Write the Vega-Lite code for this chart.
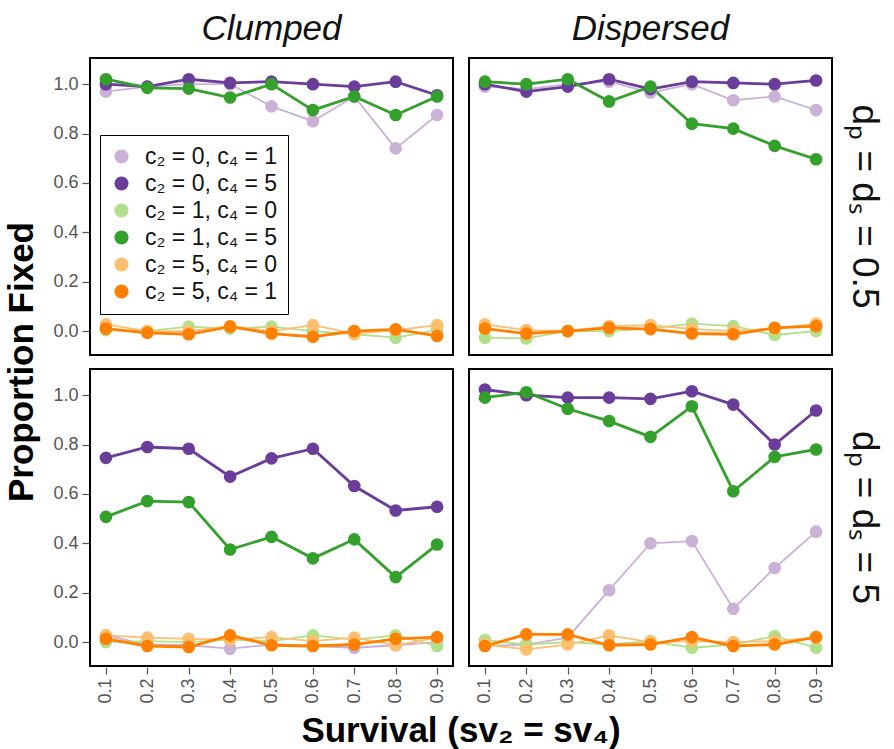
{
  "$schema": "https://vega.github.io/schema/vega-lite/v6.json",
  "background": "white",
  "padding": {"left": 4, "top": 12, "right": 4, "bottom": 0},
  "datasets": {
    "pts": [
      {"f":"Clumped","d":"0.5","s":"c₂ = 0, c₄ = 1","x":0.1,"y":0.97},
      {"f":"Clumped","d":"0.5","s":"c₂ = 0, c₄ = 1","x":0.2,"y":0.99},
      {"f":"Clumped","d":"0.5","s":"c₂ = 0, c₄ = 1","x":0.3,"y":1.0},
      {"f":"Clumped","d":"0.5","s":"c₂ = 0, c₄ = 1","x":0.4,"y":1.0},
      {"f":"Clumped","d":"0.5","s":"c₂ = 0, c₄ = 1","x":0.5,"y":0.91},
      {"f":"Clumped","d":"0.5","s":"c₂ = 0, c₄ = 1","x":0.6,"y":0.85},
      {"f":"Clumped","d":"0.5","s":"c₂ = 0, c₄ = 1","x":0.7,"y":0.95},
      {"f":"Clumped","d":"0.5","s":"c₂ = 0, c₄ = 1","x":0.8,"y":0.74},
      {"f":"Clumped","d":"0.5","s":"c₂ = 0, c₄ = 1","x":0.9,"y":0.875},
      {"f":"Clumped","d":"0.5","s":"c₂ = 0, c₄ = 5","x":0.1,"y":1.0},
      {"f":"Clumped","d":"0.5","s":"c₂ = 0, c₄ = 5","x":0.2,"y":0.99},
      {"f":"Clumped","d":"0.5","s":"c₂ = 0, c₄ = 5","x":0.3,"y":1.02},
      {"f":"Clumped","d":"0.5","s":"c₂ = 0, c₄ = 5","x":0.4,"y":1.005},
      {"f":"Clumped","d":"0.5","s":"c₂ = 0, c₄ = 5","x":0.5,"y":1.01},
      {"f":"Clumped","d":"0.5","s":"c₂ = 0, c₄ = 5","x":0.6,"y":1.0},
      {"f":"Clumped","d":"0.5","s":"c₂ = 0, c₄ = 5","x":0.7,"y":0.99},
      {"f":"Clumped","d":"0.5","s":"c₂ = 0, c₄ = 5","x":0.8,"y":1.01},
      {"f":"Clumped","d":"0.5","s":"c₂ = 0, c₄ = 5","x":0.9,"y":0.955},
      {"f":"Clumped","d":"0.5","s":"c₂ = 1, c₄ = 0","x":0.1,"y":0.004},
      {"f":"Clumped","d":"0.5","s":"c₂ = 1, c₄ = 0","x":0.2,"y":0.0},
      {"f":"Clumped","d":"0.5","s":"c₂ = 1, c₄ = 0","x":0.3,"y":0.018},
      {"f":"Clumped","d":"0.5","s":"c₂ = 1, c₄ = 0","x":0.4,"y":0.01},
      {"f":"Clumped","d":"0.5","s":"c₂ = 1, c₄ = 0","x":0.5,"y":0.018},
      {"f":"Clumped","d":"0.5","s":"c₂ = 1, c₄ = 0","x":0.6,"y":0.0},
      {"f":"Clumped","d":"0.5","s":"c₂ = 1, c₄ = 0","x":0.7,"y":-0.013},
      {"f":"Clumped","d":"0.5","s":"c₂ = 1, c₄ = 0","x":0.8,"y":-0.027},
      {"f":"Clumped","d":"0.5","s":"c₂ = 1, c₄ = 0","x":0.9,"y":0.004},
      {"f":"Clumped","d":"0.5","s":"c₂ = 1, c₄ = 5","x":0.1,"y":1.02},
      {"f":"Clumped","d":"0.5","s":"c₂ = 1, c₄ = 5","x":0.2,"y":0.985},
      {"f":"Clumped","d":"0.5","s":"c₂ = 1, c₄ = 5","x":0.3,"y":0.982},
      {"f":"Clumped","d":"0.5","s":"c₂ = 1, c₄ = 5","x":0.4,"y":0.946},
      {"f":"Clumped","d":"0.5","s":"c₂ = 1, c₄ = 5","x":0.5,"y":1.0},
      {"f":"Clumped","d":"0.5","s":"c₂ = 1, c₄ = 5","x":0.6,"y":0.895},
      {"f":"Clumped","d":"0.5","s":"c₂ = 1, c₄ = 5","x":0.7,"y":0.95},
      {"f":"Clumped","d":"0.5","s":"c₂ = 1, c₄ = 5","x":0.8,"y":0.875},
      {"f":"Clumped","d":"0.5","s":"c₂ = 1, c₄ = 5","x":0.9,"y":0.95},
      {"f":"Clumped","d":"0.5","s":"c₂ = 5, c₄ = 0","x":0.1,"y":0.027},
      {"f":"Clumped","d":"0.5","s":"c₂ = 5, c₄ = 0","x":0.2,"y":0.0},
      {"f":"Clumped","d":"0.5","s":"c₂ = 5, c₄ = 0","x":0.3,"y":0.0},
      {"f":"Clumped","d":"0.5","s":"c₂ = 5, c₄ = 0","x":0.4,"y":0.02},
      {"f":"Clumped","d":"0.5","s":"c₂ = 5, c₄ = 0","x":0.5,"y":0.0},
      {"f":"Clumped","d":"0.5","s":"c₂ = 5, c₄ = 0","x":0.6,"y":0.024},
      {"f":"Clumped","d":"0.5","s":"c₂ = 5, c₄ = 0","x":0.7,"y":-0.01},
      {"f":"Clumped","d":"0.5","s":"c₂ = 5, c₄ = 0","x":0.8,"y":0.004},
      {"f":"Clumped","d":"0.5","s":"c₂ = 5, c₄ = 0","x":0.9,"y":0.024},
      {"f":"Clumped","d":"0.5","s":"c₂ = 5, c₄ = 1","x":0.1,"y":0.01},
      {"f":"Clumped","d":"0.5","s":"c₂ = 5, c₄ = 1","x":0.2,"y":-0.007},
      {"f":"Clumped","d":"0.5","s":"c₂ = 5, c₄ = 1","x":0.3,"y":-0.013},
      {"f":"Clumped","d":"0.5","s":"c₂ = 5, c₄ = 1","x":0.4,"y":0.018},
      {"f":"Clumped","d":"0.5","s":"c₂ = 5, c₄ = 1","x":0.5,"y":-0.01},
      {"f":"Clumped","d":"0.5","s":"c₂ = 5, c₄ = 1","x":0.6,"y":-0.023},
      {"f":"Clumped","d":"0.5","s":"c₂ = 5, c₄ = 1","x":0.7,"y":0.0},
      {"f":"Clumped","d":"0.5","s":"c₂ = 5, c₄ = 1","x":0.8,"y":0.007},
      {"f":"Clumped","d":"0.5","s":"c₂ = 5, c₄ = 1","x":0.9,"y":-0.02},

      {"f":"Dispersed","d":"0.5","s":"c₂ = 0, c₄ = 1","x":0.1,"y":0.99},
      {"f":"Dispersed","d":"0.5","s":"c₂ = 0, c₄ = 1","x":0.2,"y":0.98},
      {"f":"Dispersed","d":"0.5","s":"c₂ = 0, c₄ = 1","x":0.3,"y":1.0},
      {"f":"Dispersed","d":"0.5","s":"c₂ = 0, c₄ = 1","x":0.4,"y":1.01},
      {"f":"Dispersed","d":"0.5","s":"c₂ = 0, c₄ = 1","x":0.5,"y":0.966},
      {"f":"Dispersed","d":"0.5","s":"c₂ = 0, c₄ = 1","x":0.6,"y":1.0},
      {"f":"Dispersed","d":"0.5","s":"c₂ = 0, c₄ = 1","x":0.7,"y":0.935},
      {"f":"Dispersed","d":"0.5","s":"c₂ = 0, c₄ = 1","x":0.8,"y":0.95},
      {"f":"Dispersed","d":"0.5","s":"c₂ = 0, c₄ = 1","x":0.9,"y":0.895},
      {"f":"Dispersed","d":"0.5","s":"c₂ = 0, c₄ = 5","x":0.1,"y":1.0},
      {"f":"Dispersed","d":"0.5","s":"c₂ = 0, c₄ = 5","x":0.2,"y":0.97},
      {"f":"Dispersed","d":"0.5","s":"c₂ = 0, c₄ = 5","x":0.3,"y":0.99},
      {"f":"Dispersed","d":"0.5","s":"c₂ = 0, c₄ = 5","x":0.4,"y":1.02},
      {"f":"Dispersed","d":"0.5","s":"c₂ = 0, c₄ = 5","x":0.5,"y":0.98},
      {"f":"Dispersed","d":"0.5","s":"c₂ = 0, c₄ = 5","x":0.6,"y":1.01},
      {"f":"Dispersed","d":"0.5","s":"c₂ = 0, c₄ = 5","x":0.7,"y":1.005},
      {"f":"Dispersed","d":"0.5","s":"c₂ = 0, c₄ = 5","x":0.8,"y":1.0},
      {"f":"Dispersed","d":"0.5","s":"c₂ = 0, c₄ = 5","x":0.9,"y":1.015},
      {"f":"Dispersed","d":"0.5","s":"c₂ = 1, c₄ = 0","x":0.1,"y":-0.027},
      {"f":"Dispersed","d":"0.5","s":"c₂ = 1, c₄ = 0","x":0.2,"y":-0.03},
      {"f":"Dispersed","d":"0.5","s":"c₂ = 1, c₄ = 0","x":0.3,"y":0.0},
      {"f":"Dispersed","d":"0.5","s":"c₂ = 1, c₄ = 0","x":0.4,"y":0.0},
      {"f":"Dispersed","d":"0.5","s":"c₂ = 1, c₄ = 0","x":0.5,"y":0.01},
      {"f":"Dispersed","d":"0.5","s":"c₂ = 1, c₄ = 0","x":0.6,"y":0.03},
      {"f":"Dispersed","d":"0.5","s":"c₂ = 1, c₄ = 0","x":0.7,"y":0.02},
      {"f":"Dispersed","d":"0.5","s":"c₂ = 1, c₄ = 0","x":0.8,"y":-0.016},
      {"f":"Dispersed","d":"0.5","s":"c₂ = 1, c₄ = 0","x":0.9,"y":0.0},
      {"f":"Dispersed","d":"0.5","s":"c₂ = 1, c₄ = 5","x":0.1,"y":1.01},
      {"f":"Dispersed","d":"0.5","s":"c₂ = 1, c₄ = 5","x":0.2,"y":1.0},
      {"f":"Dispersed","d":"0.5","s":"c₂ = 1, c₄ = 5","x":0.3,"y":1.02},
      {"f":"Dispersed","d":"0.5","s":"c₂ = 1, c₄ = 5","x":0.4,"y":0.93},
      {"f":"Dispersed","d":"0.5","s":"c₂ = 1, c₄ = 5","x":0.5,"y":0.99},
      {"f":"Dispersed","d":"0.5","s":"c₂ = 1, c₄ = 5","x":0.6,"y":0.84},
      {"f":"Dispersed","d":"0.5","s":"c₂ = 1, c₄ = 5","x":0.7,"y":0.82},
      {"f":"Dispersed","d":"0.5","s":"c₂ = 1, c₄ = 5","x":0.8,"y":0.75},
      {"f":"Dispersed","d":"0.5","s":"c₂ = 1, c₄ = 5","x":0.9,"y":0.696},
      {"f":"Dispersed","d":"0.5","s":"c₂ = 5, c₄ = 0","x":0.1,"y":0.027},
      {"f":"Dispersed","d":"0.5","s":"c₂ = 5, c₄ = 0","x":0.2,"y":0.004},
      {"f":"Dispersed","d":"0.5","s":"c₂ = 5, c₄ = 0","x":0.3,"y":0.0},
      {"f":"Dispersed","d":"0.5","s":"c₂ = 5, c₄ = 0","x":0.4,"y":0.02},
      {"f":"Dispersed","d":"0.5","s":"c₂ = 5, c₄ = 0","x":0.5,"y":0.024},
      {"f":"Dispersed","d":"0.5","s":"c₂ = 5, c₄ = 0","x":0.6,"y":0.008},
      {"f":"Dispersed","d":"0.5","s":"c₂ = 5, c₄ = 0","x":0.7,"y":0.0},
      {"f":"Dispersed","d":"0.5","s":"c₂ = 5, c₄ = 0","x":0.8,"y":0.01},
      {"f":"Dispersed","d":"0.5","s":"c₂ = 5, c₄ = 0","x":0.9,"y":0.03},
      {"f":"Dispersed","d":"0.5","s":"c₂ = 5, c₄ = 1","x":0.1,"y":0.01},
      {"f":"Dispersed","d":"0.5","s":"c₂ = 5, c₄ = 1","x":0.2,"y":-0.01},
      {"f":"Dispersed","d":"0.5","s":"c₂ = 5, c₄ = 1","x":0.3,"y":0.0},
      {"f":"Dispersed","d":"0.5","s":"c₂ = 5, c₄ = 1","x":0.4,"y":0.013},
      {"f":"Dispersed","d":"0.5","s":"c₂ = 5, c₄ = 1","x":0.5,"y":0.008},
      {"f":"Dispersed","d":"0.5","s":"c₂ = 5, c₄ = 1","x":0.6,"y":-0.01},
      {"f":"Dispersed","d":"0.5","s":"c₂ = 5, c₄ = 1","x":0.7,"y":-0.013},
      {"f":"Dispersed","d":"0.5","s":"c₂ = 5, c₄ = 1","x":0.8,"y":0.013},
      {"f":"Dispersed","d":"0.5","s":"c₂ = 5, c₄ = 1","x":0.9,"y":0.02},

      {"f":"Clumped","d":"5","s":"c₂ = 0, c₄ = 1","x":0.1,"y":0.027},
      {"f":"Clumped","d":"5","s":"c₂ = 0, c₄ = 1","x":0.2,"y":-0.01},
      {"f":"Clumped","d":"5","s":"c₂ = 0, c₄ = 1","x":0.3,"y":-0.013},
      {"f":"Clumped","d":"5","s":"c₂ = 0, c₄ = 1","x":0.4,"y":-0.027},
      {"f":"Clumped","d":"5","s":"c₂ = 0, c₄ = 1","x":0.5,"y":-0.01},
      {"f":"Clumped","d":"5","s":"c₂ = 0, c₄ = 1","x":0.6,"y":-0.016},
      {"f":"Clumped","d":"5","s":"c₂ = 0, c₄ = 1","x":0.7,"y":-0.023},
      {"f":"Clumped","d":"5","s":"c₂ = 0, c₄ = 1","x":0.8,"y":-0.013},
      {"f":"Clumped","d":"5","s":"c₂ = 0, c₄ = 1","x":0.9,"y":0.0},
      {"f":"Clumped","d":"5","s":"c₂ = 0, c₄ = 5","x":0.1,"y":0.746},
      {"f":"Clumped","d":"5","s":"c₂ = 0, c₄ = 5","x":0.2,"y":0.79},
      {"f":"Clumped","d":"5","s":"c₂ = 0, c₄ = 5","x":0.3,"y":0.783},
      {"f":"Clumped","d":"5","s":"c₂ = 0, c₄ = 5","x":0.4,"y":0.67},
      {"f":"Clumped","d":"5","s":"c₂ = 0, c₄ = 5","x":0.5,"y":0.744},
      {"f":"Clumped","d":"5","s":"c₂ = 0, c₄ = 5","x":0.6,"y":0.783},
      {"f":"Clumped","d":"5","s":"c₂ = 0, c₄ = 5","x":0.7,"y":0.632},
      {"f":"Clumped","d":"5","s":"c₂ = 0, c₄ = 5","x":0.8,"y":0.533},
      {"f":"Clumped","d":"5","s":"c₂ = 0, c₄ = 5","x":0.9,"y":0.548},
      {"f":"Clumped","d":"5","s":"c₂ = 1, c₄ = 0","x":0.1,"y":0.0},
      {"f":"Clumped","d":"5","s":"c₂ = 1, c₄ = 0","x":0.2,"y":0.004},
      {"f":"Clumped","d":"5","s":"c₂ = 1, c₄ = 0","x":0.3,"y":0.0},
      {"f":"Clumped","d":"5","s":"c₂ = 1, c₄ = 0","x":0.4,"y":0.01},
      {"f":"Clumped","d":"5","s":"c₂ = 1, c₄ = 0","x":0.5,"y":0.004},
      {"f":"Clumped","d":"5","s":"c₂ = 1, c₄ = 0","x":0.6,"y":0.027},
      {"f":"Clumped","d":"5","s":"c₂ = 1, c₄ = 0","x":0.7,"y":0.01},
      {"f":"Clumped","d":"5","s":"c₂ = 1, c₄ = 0","x":0.8,"y":0.027},
      {"f":"Clumped","d":"5","s":"c₂ = 1, c₄ = 0","x":0.9,"y":-0.016},
      {"f":"Clumped","d":"5","s":"c₂ = 1, c₄ = 5","x":0.1,"y":0.507},
      {"f":"Clumped","d":"5","s":"c₂ = 1, c₄ = 5","x":0.2,"y":0.571},
      {"f":"Clumped","d":"5","s":"c₂ = 1, c₄ = 5","x":0.3,"y":0.567},
      {"f":"Clumped","d":"5","s":"c₂ = 1, c₄ = 5","x":0.4,"y":0.375},
      {"f":"Clumped","d":"5","s":"c₂ = 1, c₄ = 5","x":0.5,"y":0.426},
      {"f":"Clumped","d":"5","s":"c₂ = 1, c₄ = 5","x":0.6,"y":0.339},
      {"f":"Clumped","d":"5","s":"c₂ = 1, c₄ = 5","x":0.7,"y":0.416},
      {"f":"Clumped","d":"5","s":"c₂ = 1, c₄ = 5","x":0.8,"y":0.263},
      {"f":"Clumped","d":"5","s":"c₂ = 1, c₄ = 5","x":0.9,"y":0.395},
      {"f":"Clumped","d":"5","s":"c₂ = 5, c₄ = 0","x":0.1,"y":0.027},
      {"f":"Clumped","d":"5","s":"c₂ = 5, c₄ = 0","x":0.2,"y":0.018},
      {"f":"Clumped","d":"5","s":"c₂ = 5, c₄ = 0","x":0.3,"y":0.013},
      {"f":"Clumped","d":"5","s":"c₂ = 5, c₄ = 0","x":0.4,"y":0.01},
      {"f":"Clumped","d":"5","s":"c₂ = 5, c₄ = 0","x":0.5,"y":0.02},
      {"f":"Clumped","d":"5","s":"c₂ = 5, c₄ = 0","x":0.6,"y":0.004},
      {"f":"Clumped","d":"5","s":"c₂ = 5, c₄ = 0","x":0.7,"y":0.018},
      {"f":"Clumped","d":"5","s":"c₂ = 5, c₄ = 0","x":0.8,"y":-0.013},
      {"f":"Clumped","d":"5","s":"c₂ = 5, c₄ = 0","x":0.9,"y":0.018},
      {"f":"Clumped","d":"5","s":"c₂ = 5, c₄ = 1","x":0.1,"y":0.013},
      {"f":"Clumped","d":"5","s":"c₂ = 5, c₄ = 1","x":0.2,"y":-0.016},
      {"f":"Clumped","d":"5","s":"c₂ = 5, c₄ = 1","x":0.3,"y":-0.02},
      {"f":"Clumped","d":"5","s":"c₂ = 5, c₄ = 1","x":0.4,"y":0.027},
      {"f":"Clumped","d":"5","s":"c₂ = 5, c₄ = 1","x":0.5,"y":-0.013},
      {"f":"Clumped","d":"5","s":"c₂ = 5, c₄ = 1","x":0.6,"y":-0.016},
      {"f":"Clumped","d":"5","s":"c₂ = 5, c₄ = 1","x":0.7,"y":-0.01},
      {"f":"Clumped","d":"5","s":"c₂ = 5, c₄ = 1","x":0.8,"y":0.013},
      {"f":"Clumped","d":"5","s":"c₂ = 5, c₄ = 1","x":0.9,"y":0.02},

      {"f":"Dispersed","d":"5","s":"c₂ = 0, c₄ = 1","x":0.1,"y":-0.016},
      {"f":"Dispersed","d":"5","s":"c₂ = 0, c₄ = 1","x":0.2,"y":-0.01},
      {"f":"Dispersed","d":"5","s":"c₂ = 0, c₄ = 1","x":0.3,"y":0.018},
      {"f":"Dispersed","d":"5","s":"c₂ = 0, c₄ = 1","x":0.4,"y":0.21},
      {"f":"Dispersed","d":"5","s":"c₂ = 0, c₄ = 1","x":0.5,"y":0.4},
      {"f":"Dispersed","d":"5","s":"c₂ = 0, c₄ = 1","x":0.6,"y":0.409},
      {"f":"Dispersed","d":"5","s":"c₂ = 0, c₄ = 1","x":0.7,"y":0.135},
      {"f":"Dispersed","d":"5","s":"c₂ = 0, c₄ = 1","x":0.8,"y":0.3},
      {"f":"Dispersed","d":"5","s":"c₂ = 0, c₄ = 1","x":0.9,"y":0.447},
      {"f":"Dispersed","d":"5","s":"c₂ = 0, c₄ = 5","x":0.1,"y":1.023},
      {"f":"Dispersed","d":"5","s":"c₂ = 0, c₄ = 5","x":0.2,"y":1.0},
      {"f":"Dispersed","d":"5","s":"c₂ = 0, c₄ = 5","x":0.3,"y":0.99},
      {"f":"Dispersed","d":"5","s":"c₂ = 0, c₄ = 5","x":0.4,"y":0.99},
      {"f":"Dispersed","d":"5","s":"c₂ = 0, c₄ = 5","x":0.5,"y":0.985},
      {"f":"Dispersed","d":"5","s":"c₂ = 0, c₄ = 5","x":0.6,"y":1.016},
      {"f":"Dispersed","d":"5","s":"c₂ = 0, c₄ = 5","x":0.7,"y":0.962},
      {"f":"Dispersed","d":"5","s":"c₂ = 0, c₄ = 5","x":0.8,"y":0.8},
      {"f":"Dispersed","d":"5","s":"c₂ = 0, c₄ = 5","x":0.9,"y":0.938},
      {"f":"Dispersed","d":"5","s":"c₂ = 1, c₄ = 0","x":0.1,"y":0.008},
      {"f":"Dispersed","d":"5","s":"c₂ = 1, c₄ = 0","x":0.2,"y":-0.01},
      {"f":"Dispersed","d":"5","s":"c₂ = 1, c₄ = 0","x":0.3,"y":0.0},
      {"f":"Dispersed","d":"5","s":"c₂ = 1, c₄ = 0","x":0.4,"y":-0.01},
      {"f":"Dispersed","d":"5","s":"c₂ = 1, c₄ = 0","x":0.5,"y":0.004},
      {"f":"Dispersed","d":"5","s":"c₂ = 1, c₄ = 0","x":0.6,"y":-0.023},
      {"f":"Dispersed","d":"5","s":"c₂ = 1, c₄ = 0","x":0.7,"y":-0.01},
      {"f":"Dispersed","d":"5","s":"c₂ = 1, c₄ = 0","x":0.8,"y":0.024},
      {"f":"Dispersed","d":"5","s":"c₂ = 1, c₄ = 0","x":0.9,"y":-0.023},
      {"f":"Dispersed","d":"5","s":"c₂ = 1, c₄ = 5","x":0.1,"y":0.99},
      {"f":"Dispersed","d":"5","s":"c₂ = 1, c₄ = 5","x":0.2,"y":1.012},
      {"f":"Dispersed","d":"5","s":"c₂ = 1, c₄ = 5","x":0.3,"y":0.945},
      {"f":"Dispersed","d":"5","s":"c₂ = 1, c₄ = 5","x":0.4,"y":0.895},
      {"f":"Dispersed","d":"5","s":"c₂ = 1, c₄ = 5","x":0.5,"y":0.831},
      {"f":"Dispersed","d":"5","s":"c₂ = 1, c₄ = 5","x":0.6,"y":0.955},
      {"f":"Dispersed","d":"5","s":"c₂ = 1, c₄ = 5","x":0.7,"y":0.611},
      {"f":"Dispersed","d":"5","s":"c₂ = 1, c₄ = 5","x":0.8,"y":0.75},
      {"f":"Dispersed","d":"5","s":"c₂ = 1, c₄ = 5","x":0.9,"y":0.78},
      {"f":"Dispersed","d":"5","s":"c₂ = 5, c₄ = 0","x":0.1,"y":-0.01},
      {"f":"Dispersed","d":"5","s":"c₂ = 5, c₄ = 0","x":0.2,"y":-0.03},
      {"f":"Dispersed","d":"5","s":"c₂ = 5, c₄ = 0","x":0.3,"y":-0.01},
      {"f":"Dispersed","d":"5","s":"c₂ = 5, c₄ = 0","x":0.4,"y":0.027},
      {"f":"Dispersed","d":"5","s":"c₂ = 5, c₄ = 0","x":0.5,"y":0.0},
      {"f":"Dispersed","d":"5","s":"c₂ = 5, c₄ = 0","x":0.6,"y":0.004},
      {"f":"Dispersed","d":"5","s":"c₂ = 5, c₄ = 0","x":0.7,"y":0.0},
      {"f":"Dispersed","d":"5","s":"c₂ = 5, c₄ = 0","x":0.8,"y":0.004},
      {"f":"Dispersed","d":"5","s":"c₂ = 5, c₄ = 0","x":0.9,"y":0.018},
      {"f":"Dispersed","d":"5","s":"c₂ = 5, c₄ = 1","x":0.1,"y":-0.016},
      {"f":"Dispersed","d":"5","s":"c₂ = 5, c₄ = 1","x":0.2,"y":0.031},
      {"f":"Dispersed","d":"5","s":"c₂ = 5, c₄ = 1","x":0.3,"y":0.031},
      {"f":"Dispersed","d":"5","s":"c₂ = 5, c₄ = 1","x":0.4,"y":-0.013},
      {"f":"Dispersed","d":"5","s":"c₂ = 5, c₄ = 1","x":0.5,"y":-0.01},
      {"f":"Dispersed","d":"5","s":"c₂ = 5, c₄ = 1","x":0.6,"y":0.02},
      {"f":"Dispersed","d":"5","s":"c₂ = 5, c₄ = 1","x":0.7,"y":-0.016},
      {"f":"Dispersed","d":"5","s":"c₂ = 5, c₄ = 1","x":0.8,"y":-0.01},
      {"f":"Dispersed","d":"5","s":"c₂ = 5, c₄ = 1","x":0.9,"y":0.02}
    ]
  },
  "data": {"name": "pts"},
  "facet": {
    "column": {
      "field": "f", "type": "nominal", "sort": ["Clumped", "Dispersed"], "title": "Survival (sv₂ = sv₄)",
      "header": {
        "labelFont": "Liberation Sans", "labelFontSize": 35, "labelFontStyle": "italic", "labelColor": "#111111", "labelPadding": 10,
        "titleOrient": "bottom", "titleFont": "Liberation Sans", "titleFontSize": 35, "titleFontWeight": "bold", "titleColor": "#000000", "titlePadding": 0
      }
    },
    "row": {
      "field": "d", "type": "nominal", "sort": ["0.5", "5"], "title": "Proportion Fixed",
      "header": {
        "labelOrient": "right", "labelAngle": 90, "labelFont": "Liberation Sans", "labelFontSize": 37, "labelColor": "#111111", "labelPadding": 12,
        "labelExpr": "'dₚ = dₛ = ' + datum.value",
        "titleOrient": "left", "titleFont": "Liberation Sans", "titleFontSize": 35, "titleFontWeight": "bold", "titleColor": "#000000", "titlePadding": 2
      }
    }
  },
  "spacing": {"column": 14, "row": 12},
  "spec": {
    "width": 363,
    "height": 297,
    "encoding": {
      "x": {
        "field": "x", "type": "quantitative",
        "scale": {"domain": [0.0615, 0.9385], "nice": false, "zero": false},
        "axis": {"values": [0.1, 0.2, 0.3, 0.4, 0.5, 0.6, 0.7, 0.8, 0.9], "format": ".1f", "labelAngle": -90, "labelAlign": "right", "labelBaseline": "middle", "title": null}
      },
      "y": {
        "field": "y", "type": "quantitative",
        "scale": {"domain": [-0.097, 1.106], "nice": false, "zero": false},
        "axis": {"values": [0, 0.2, 0.4, 0.6, 0.8, 1.0], "format": ".1f", "title": null}
      },
      "color": {
        "field": "s", "type": "nominal",
        "scale": {
          "domain": ["c₂ = 0, c₄ = 1", "c₂ = 0, c₄ = 5", "c₂ = 1, c₄ = 0", "c₂ = 1, c₄ = 5", "c₂ = 5, c₄ = 0", "c₂ = 5, c₄ = 1"],
          "range": ["#cab2d6", "#6a3d9a", "#b2df8a", "#33a02c", "#fdbf6f", "#ff7f00"]
        },
        "legend": {
          "orient": "none", "legendX": 10, "legendY": 77, "title": null,
          "symbolType": "circle", "symbolSize": 200, "symbolStrokeWidth": 0, "symbolOpacity": 1,
          "labelFont": "Liberation Sans", "labelFontSize": 23, "labelColor": "#111111", "labelOffset": 12,
          "rowPadding": 3, "padding": 10, "strokeColor": "#000000", "fillColor": "#ffffff", "cornerRadius": 0
        }
      }
    },
    "layer": [
      {
        "transform": [{"filter": {"field": "s", "oneOf": ["c₂ = 0, c₄ = 1", "c₂ = 1, c₄ = 0", "c₂ = 5, c₄ = 0"]}}],
        "mark": {"type": "line", "strokeWidth": 1.8}
      },
      {
        "transform": [{"filter": {"field": "s", "oneOf": ["c₂ = 0, c₄ = 5", "c₂ = 1, c₄ = 5", "c₂ = 5, c₄ = 1"]}}],
        "mark": {"type": "line", "strokeWidth": 2.8}
      },
      {
        "mark": {"type": "circle", "size": 160, "opacity": 1}
      }
    ]
  },
  "config": {
    "font": "Liberation Sans",
    "view": {"stroke": "#000000", "strokeWidth": 2},
    "axis": {
      "grid": false, "domain": false,
      "labelColor": "#555555", "labelFontSize": 18, "labelFont": "Liberation Sans", "labelPadding": 4,
      "tickColor": "#555555", "tickSize": 7, "tickWidth": 1.2
    }
  }
}
